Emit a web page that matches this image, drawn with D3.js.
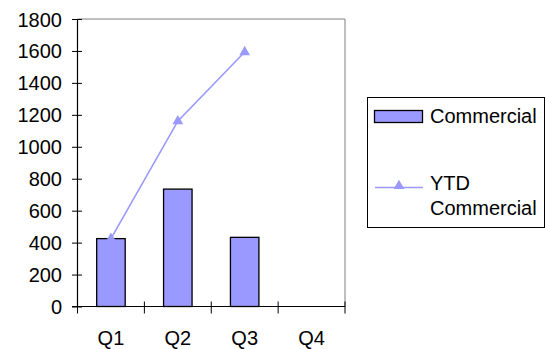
<!DOCTYPE html>
<html><head><meta charset="utf-8">
<script src="https://cdn.jsdelivr.net/npm/d3@7"></script>
<style>body{margin:0;background:#fff}svg{display:block}text{font-family:"Liberation Sans",Arial,sans-serif;font-size:20px;fill:#000}</style>
</head><body><svg id="c" width="546" height="349"></svg>
<script>
const categories = ["Q1","Q2","Q3","Q4"];
const commercial = [425, 735, 433, null];
const ytdCommercial = [425, 1160, 1593, null];
const yTicks = [0,200,400,600,800,1000,1200,1400,1600,1800];

const svg = d3.select("#c");
const L = 77.5, R = 345, T = 19, B = 306.5;
const x = d3.scaleBand().domain(categories).range([L, R]);
const y = d3.scaleLinear().domain([0, 1800]).range([B, T]);
const col = "#9999FF";

// plot frame (top/right grey)
svg.append("path").attr("d", `M${L},${T}H${R}V${B}`).attr("fill","none").attr("stroke","#808080").attr("stroke-width",1);

// bars
const bw = 28.5;
svg.selectAll("rect.bar").data(categories.map((c,i)=>({c,v:commercial[i]})).filter(d=>d.v!=null))
  .enter().append("rect")
  .attr("x", d => x(d.c) + x.bandwidth()/2 - bw/2)
  .attr("y", d => y(d.v))
  .attr("width", bw)
  .attr("height", d => y(0) - y(d.v))
  .attr("fill", col).attr("stroke","#000").attr("stroke-width",1.3);

// y axis
const yAxis = svg.append("g").attr("transform", `translate(${L},0)`)
  .call(d3.axisLeft(y).tickValues(yTicks).tickSize(6).tickPadding(4).tickFormat(d3.format("d")));
yAxis.attr("font-size", null).attr("font-family", null);
yAxis.select(".domain").attr("stroke","#000").attr("stroke-width",1.2).attr("d", `M0,${T}V${B}`);
yAxis.selectAll(".tick line").attr("stroke","#000").attr("x1",-5.5).attr("x2",4.5);
yAxis.selectAll("text").style("font-size","20px").attr("dy","0.35em").attr("x",-15.5);

// x axis
const xAxis = svg.append("g").attr("transform", `translate(0,${B})`)
  .call(d3.axisBottom(x).tickSize(0).tickPadding(31));
xAxis.attr("font-size", null).attr("font-family", null);
xAxis.select(".domain").attr("stroke","#000").attr("stroke-width",1.2).attr("d", `M${L-5.5},0H${R}`);
xAxis.selectAll("text").style("font-size","20px").attr("dy","0.35em");
const bounds = categories.map(c => x(c)).concat([R]);
svg.selectAll("line.xt").data(bounds).enter().append("line")
  .attr("x1", d=>d).attr("x2", d=>d).attr("y1", B-5).attr("y2", B+7).attr("stroke","#000").attr("stroke-width",1);

// line
const pts = categories.map((c,i)=>({c,v:ytdCommercial[i]})).filter(d=>d.v!=null);
svg.append("path").datum(pts)
  .attr("d", d3.line().x(d=>x(d.c)+x.bandwidth()/2).y(d=>y(d.v)))
  .attr("fill","none").attr("stroke",col).attr("stroke-width",1.6);
const tri = d3.symbol().type(d3.symbolTriangle).size(50);
svg.selectAll("path.m").data(pts).enter().append("path")
  .attr("d", tri).attr("fill", col)
  .attr("transform", d=>`translate(${x(d.c)+x.bandwidth()/2},${y(d.v)})`);

// legend
const lg = svg.append("g");
lg.append("rect").attr("x",367.5).attr("y",97.5).attr("width",177).attr("height",130).attr("fill","#fff").attr("stroke","#000").attr("stroke-width",1);
lg.append("rect").attr("x",374.5).attr("y",110.5).attr("width",48).attr("height",12).attr("fill",col).attr("stroke","#000").attr("stroke-width",1.3);
lg.append("text").attr("x",430).attr("y",123).text("Commercial");
lg.append("line").attr("x1",375).attr("x2",423).attr("y1",187.5).attr("y2",187.5).attr("stroke",col).attr("stroke-width",1.6);
lg.append("path").attr("d",tri).attr("fill",col).attr("transform","translate(399,186)");
lg.append("text").attr("x",430).attr("y",190).text("YTD");
lg.append("text").attr("x",430).attr("y",215).text("Commercial");
</script></body></html>
